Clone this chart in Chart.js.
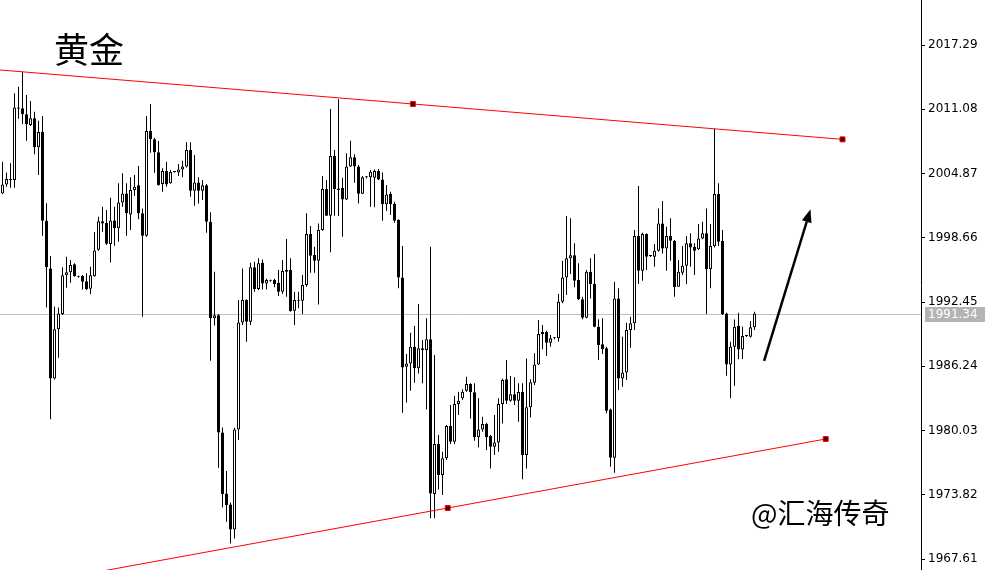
<!DOCTYPE html>
<html>
<head>
<meta charset="utf-8">
<script src="https://cdn.jsdelivr.net/npm/chart.js@4.4.1/dist/chart.umd.min.js"></script>
<style>
html, body { margin: 0; padding: 0; background: #fff; }
#wrap { position: relative; width: 997px; height: 570px; }
</style>
</head>
<body>
<div id="wrap"><canvas id="chartOro"></canvas></div>
<script>
// Velas (apertura, máximo, mínimo, cierre)
const opens = [
  2002.95,2003.82,2004.21,2004.24,2011.26,2011.17,2010.59,2009.56,2010.20,2007.40,
  2008.88,2000.31,1995.70,1985.07,1989.81,1991.29,1995.03,1995.32,1996.09,1994.90,
  1994.96,1994.45,1993.74,1994.93,1997.51,2000.25,2000.08,1998.05,2000.34,1999.57,
  2002.08,2002.95,2000.92,2003.27,2003.73,2001.02,1998.86,2008.98,2008.17,2006.92,
  2003.85,2005.11,2003.92,2005.01,2004.98,2005.27,2005.56,2007.14,2003.21,2004.01,
  2003.21,2003.73,2000.21,1990.87,1991.16,1979.85,1973.95,1972.89,1970.47,1980.14,
  1990.48,1992.64,1990.55,1995.80,1993.70,1996.25,1994.25,1994.51,1994.57,1994.32,
  1993.45,1995.38,1995.54,1991.61,1992.58,1992.58,1994.09,1999.02,1996.99,1996.44,
  1999.41,2003.37,2000.79,2006.56,2003.43,2003.47,2002.37,2005.56,2006.43,2005.56,
  2002.92,2004.50,2004.50,2004.47,2005.11,2004.30,2001.89,2002.92,2001.92,2000.37,
  1994.83,1986.20,1986.52,1988.13,1986.04,1987.97,1987.81,1988.84,1973.89,1978.72,
  1975.73,1977.34,1980.46,1978.95,1982.59,1983.14,1983.88,1984.52,1983.72,1979.37,
  1980.14,1980.66,1979.50,1978.46,1978.88,1982.59,1984.98,1982.91,1983.53,1982.91,
  1983.75,1977.66,1982.27,1984.65,1986.42,1989.36,1989.55,1988.52,1988.94,1988.94,
  1992.48,1994.83,1996.67,1996.96,1994.58,1992.71,1990.94,1995.38,1994.19,1990.07,
  1988.36,1987.97,1982.07,1977.40,1992.80,1985.07,1985.65,1989.74,1990.39,1998.83,
  1995.48,1999.02,1996.89,1996.83,1997.41,2000.05,1997.63,1998.83,1998.34,1993.93,
  1995.28,1995.96,1998.12,1997.80,1997.54,1998.60,1999.09,1995.61,1997.86,2002.89,
  1998.34,1991.35,1986.42,1988.13,1990.16,1987.87,1989.16,1989.10,1990.00
];
const highs = [
  2006.01,2004.98,2005.85,2012.62,2013.26,2014.71,2012.46,2011.88,2010.85,2009.98,
  2010.43,2001.99,1996.89,1992.00,1991.93,1995.80,1996.83,1996.51,1996.19,1995.00,
  1995.06,1995.22,1995.86,1999.21,2000.70,2001.66,2001.34,2002.53,2001.66,2003.92,
  2004.89,2003.92,2004.50,2004.72,2005.59,2001.50,2010.43,2011.59,2008.33,2008.01,
  2005.37,2006.01,2005.21,2005.08,2005.79,2006.11,2007.88,2007.88,2006.66,2004.50,
  2004.24,2003.85,2001.12,1995.38,1991.29,1980.33,1976.11,1973.08,1980.30,1992.64,
  1995.70,1992.71,1996.25,1996.35,1996.67,1996.57,1994.70,1994.60,1994.70,1995.54,
  1996.51,1998.54,1996.67,1993.45,1993.45,1995.06,2001.02,1999.79,1997.80,2000.05,
  2004.63,2004.24,2011.10,2007.14,2012.04,2004.47,2006.82,2008.04,2006.72,2005.69,
  2004.63,2004.60,2005.21,2005.27,2005.30,2004.98,2003.76,2003.11,2002.15,2000.44,
  1997.86,1987.42,1989.48,1990.13,1992.25,1988.77,1990.87,1997.80,1987.32,1979.59,
  1977.98,1980.56,1982.49,1983.39,1983.78,1984.01,1985.23,1984.59,1984.59,1983.14,
  1981.36,1980.78,1979.59,1981.52,1983.14,1985.07,1986.85,1985.30,1985.17,1984.59,
  1984.59,1987.00,1984.98,1987.49,1990.71,1990.23,1989.68,1989.26,1989.02,1993.22,
  1996.45,2000.76,2000.54,1998.12,1996.19,1992.97,1995.54,1996.67,1997.09,1990.78,
  1990.87,1988.13,1982.17,1994.41,1993.77,1989.10,1990.45,1991.03,1999.41,2003.66,
  1999.15,1999.09,1996.98,1998.05,2001.50,2002.21,1999.73,2000.54,1998.44,1996.51,
  1997.86,1998.83,1999.09,1998.12,1999.99,2000.21,2001.50,1999.99,2009.23,2003.92,
  1999.41,1991.42,1988.61,1990.77,1991.42,1990.07,1989.25,1990.61,1991.51
];
const lows = [
  2002.89,2003.60,2003.50,2003.50,2010.17,2009.62,2008.04,2009.46,2006.72,2004.72,
  1998.86,1991.93,1981.11,1984.97,1987.07,1991.19,1993.83,1994.32,1994.90,1994.80,
  1993.67,1993.61,1993.19,1994.90,1997.41,1999.25,1997.96,1996.28,1997.89,1998.28,
  2001.66,1998.86,1999.41,2002.69,2000.44,1991.03,1998.76,2006.88,2004.95,2003.69,
  2003.11,2003.60,2003.89,2004.95,2004.63,2004.50,2005.46,2002.63,2001.76,2001.98,
  2002.31,1999.15,1986.78,1990.19,1976.43,1972.60,1971.21,1969.12,1969.60,1979.11,
  1990.23,1988.61,1990.23,1993.45,1993.61,1993.67,1993.67,1994.42,1993.87,1993.03,
  1993.22,1992.96,1991.51,1990.23,1991.84,1991.29,1993.93,1995.28,1995.28,1992.22,
  1999.34,2000.76,1997.25,2000.79,2000.76,1998.76,2002.31,2005.53,2003.98,2001.98,
  2002.89,2004.40,2001.66,2001.60,2004.25,2000.31,2001.28,2000.86,2000.12,1993.77,
  1981.75,1982.75,1983.88,1984.65,1985.55,1984.59,1982.07,1971.54,1971.54,1974.34,
  1973.79,1977.18,1978.72,1978.72,1981.52,1982.98,1983.78,1981.20,1979.04,1978.40,
  1979.91,1978.14,1976.37,1977.66,1977.98,1980.72,1982.59,1982.82,1982.49,1980.88,
  1975.31,1976.37,1981.30,1984.43,1986.36,1987.88,1987.23,1988.13,1988.86,1988.62,
  1992.32,1993.13,1995.16,1993.87,1992.64,1990.78,1990.87,1992.80,1990.00,1986.84,
  1987.42,1981.69,1976.53,1975.95,1983.94,1984.27,1984.91,1988.03,1989.74,1994.19,
  1994.51,1995.54,1996.80,1995.86,1997.31,1997.15,1995.48,1996.44,1992.96,1993.93,
  1995.06,1994.16,1995.86,1995.06,1997.47,1998.51,1991.29,1993.77,1997.73,1997.86,
  1991.19,1985.33,1983.14,1984.36,1986.91,1986.94,1989.07,1989.03,1989.74
];
const closes = [
  2003.82,2004.34,2004.34,2011.26,2011.14,2010.59,2009.62,2010.20,2007.40,2008.88,
  2000.31,1995.80,1985.07,1989.81,1991.35,1995.03,1995.32,1996.02,1994.93,1994.90,
  1994.41,1993.70,1995.03,1997.44,2000.25,2000.05,1998.09,2000.34,1999.57,2002.08,
  2002.95,2001.02,2003.27,2003.60,2001.02,1998.86,2008.98,2008.17,2006.92,2003.76,
  2005.11,2003.82,2005.01,2005.01,2005.27,2005.56,2007.14,2003.21,2004.01,2003.21,
  2003.73,2000.21,1990.87,1991.16,1979.85,1973.89,1972.83,1970.47,1980.14,1990.48,
  1992.64,1990.55,1995.80,1993.70,1996.19,1994.25,1994.57,1994.51,1994.19,1993.45,
  1995.44,1995.54,1991.58,1992.64,1992.58,1994.09,1999.02,1996.93,1996.44,1999.41,
  2003.37,2000.79,2006.56,2003.37,2003.27,2002.37,2005.56,2006.43,2005.56,2002.92,
  2004.50,2004.50,2005.05,2005.11,2004.30,2001.89,2002.85,2001.89,2000.31,1994.83,
  1986.13,1986.52,1988.13,1986.04,1987.97,1987.81,1988.84,1973.95,1978.72,1975.73,
  1977.34,1980.46,1978.95,1982.59,1982.91,1983.78,1984.52,1983.72,1979.37,1980.14,
  1980.66,1979.37,1978.46,1978.88,1982.59,1984.91,1982.91,1983.53,1982.91,1983.75,
  1977.66,1982.27,1984.69,1986.42,1989.36,1989.55,1988.52,1988.94,1988.94,1992.48,
  1994.83,1996.67,1996.96,1994.51,1992.71,1990.94,1995.38,1994.19,1990.07,1988.29,
  1987.91,1981.95,1977.40,1992.80,1985.07,1985.65,1989.74,1990.39,1998.83,1995.48,
  1999.02,1996.83,1996.89,1997.41,2000.05,1997.63,1998.83,1998.38,1993.87,1995.38,
  1995.96,1998.12,1997.73,1997.41,1998.60,1999.09,1995.61,1997.86,2002.89,1998.28,
  1991.26,1986.42,1988.13,1990.07,1987.87,1989.16,1989.16,1990.00,1991.34
];

// Eje de precios (derecha)
const yTicks = [2017.29, 2011.08, 2004.87, 1998.66, 1992.45, 1986.24, 1980.03, 1973.82, 1967.61];
const currentPrice = 1991.34;

// Líneas de tendencia (índice de vela, precio)
const upperLine = [{ x: -0.7, y: 2014.88 }, { x: 102.6, y: 2011.59 }, { x: 210.0, y: 2008.17 }];
const lowerLine = [{ x: 20.0, y: 1966.10 }, { x: 111.3, y: 1972.54 }, { x: 205.8, y: 1979.21 }];
const markRadius = [0, 3.5, 3.5];

// Flecha
const arrowFrom = { x: 190.4, y: 1986.77 };
const arrowTo = { x: 202.0, y: 2001.41 };

const titulo = '黄金';
const marcaAgua = '@汇海传奇';

const bodyData = opens.map((o, i) => ({ x: i, y: [o, closes[i]] }));
const wickData = lows.map((l, i) => ({ x: i, y: [l, highs[i]] }));
const bodyColors = opens.map((o, i) => closes[i] >= o ? '#ffffff' : '#000000');

const extras = {
    id: 'extras',
    beforeDatasetsDraw(chart) {
        // línea de precio actual
        const { ctx, chartArea, scales } = chart;
        const py = Math.round(scales.y.getPixelForValue(currentPrice)) + 0.5;
        ctx.save();
        ctx.strokeStyle = '#c0c0c0';
        ctx.lineWidth = 1;
        ctx.beginPath();
        ctx.moveTo(chartArea.left, py);
        ctx.lineTo(chartArea.right, py);
        ctx.stroke();
        ctx.restore();
    },
    afterDatasetsDraw(chart) {
        const { ctx, scales } = chart;
        const x1 = scales.x.getPixelForValue(arrowFrom.x), y1 = scales.y.getPixelForValue(arrowFrom.y);
        const x2 = scales.x.getPixelForValue(arrowTo.x), y2 = scales.y.getPixelForValue(arrowTo.y);
        const ang = Math.atan2(y2 - y1, x2 - x1);
        const head = 13, half = 5;
        const bx = x2 - head * Math.cos(ang), by = y2 - head * Math.sin(ang);
        ctx.save();
        ctx.strokeStyle = '#000';
        ctx.fillStyle = '#000';
        ctx.lineWidth = 2.5;
        ctx.beginPath();
        ctx.moveTo(x1, y1);
        ctx.lineTo(bx, by);
        ctx.stroke();
        ctx.beginPath();
        ctx.moveTo(x2, y2);
        ctx.lineTo(bx + half * Math.sin(ang), by - half * Math.cos(ang));
        ctx.lineTo(bx - half * Math.sin(ang), by + half * Math.cos(ang));
        ctx.closePath();
        ctx.fill();
        ctx.restore();
    },
    afterDraw(chart) {
        const { ctx, chartArea, scales } = chart;
        const py = Math.round(scales.y.getPixelForValue(currentPrice));
        ctx.save();
        // etiqueta del precio actual
        ctx.fillStyle = '#b4b4b4';
        ctx.fillRect(chartArea.right + 4, py - 7, 60, 15);
        ctx.fillStyle = '#ffffff';
        ctx.font = '12px "DejaVu Sans"';
        ctx.textBaseline = 'middle';
        ctx.fillText(currentPrice.toFixed(2), chartArea.right + 7, py + 1);
        // título y marca de agua
        ctx.fillStyle = '#000';
        ctx.font = '35px "Noto Sans CJK SC"';
        ctx.fillText(titulo, 54, 50);
        ctx.font = '28px "Noto Sans CJK SC"';
        ctx.fillText(marcaAgua, 751, 513);
        ctx.restore();
    }
};

const ctx = document.getElementById('chartOro').getContext('2d');
new Chart(ctx, {
    type: 'bar',
    data: {
        datasets: [
            {
                type: 'line',
                data: upperLine,
                borderColor: '#ff0000',
                borderWidth: 1,
                pointRadius: markRadius,
                pointStyle: 'rect',
                pointBackgroundColor: '#400000',
                pointBorderColor: '#ff0000',
                pointBorderWidth: 1,
                order: 1
            },
            {
                type: 'line',
                data: lowerLine,
                borderColor: '#ff0000',
                borderWidth: 1,
                pointRadius: markRadius,
                pointStyle: 'rect',
                pointBackgroundColor: '#400000',
                pointBorderColor: '#ff0000',
                pointBorderWidth: 1,
                order: 1
            },
            {
                data: bodyData,
                backgroundColor: bodyColors,
                borderColor: '#000000',
                borderWidth: 1,
                borderSkipped: false,
                grouped: false,
                barPercentage: 1,
                categoryPercentage: 1,
                maxBarThickness: 3,
                minBarLength: 1,
                inflateAmount: 0,
                order: 2
            },
            {
                data: wickData,
                backgroundColor: '#000000',
                borderWidth: 0,
                grouped: false,
                barPercentage: 1,
                categoryPercentage: 1,
                maxBarThickness: 1,
                inflateAmount: 0,
                order: 3
            }
        ]
    },
    options: {
        responsive: true,
        maintainAspectRatio: false,
        animation: false,
        layout: { padding: 0, autoPadding: false },
        scales: {
            x: {
                type: 'linear',
                display: false,
                min: -0.625,
                max: 229.625,
                offset: false
            },
            y: {
                type: 'linear',
                position: 'right',
                min: 1966.55,
                max: 2021.64,
                afterBuildTicks: function (s) {
                    s.ticks = yTicks.map(v => ({ value: v }));
                },
                afterFit: function (s) {
                    s.width = 76;
                    s.paddingTop = 0;
                    s.paddingBottom = 0;
                },
                ticks: {
                    color: '#000',
                    autoSkip: false,
                    padding: 3,
                    font: { family: 'DejaVu Sans', size: 12 },
                    callback: function (v) { return Number(v).toFixed(2); }
                },
                grid: {
                    drawOnChartArea: false,
                    drawTicks: true,
                    tickLength: 4,
                    color: '#000'
                },
                border: { display: true, color: '#000', width: 1 }
            }
        },
        plugins: {
            legend: { display: false },
            tooltip: { enabled: false }
        }
    },
    plugins: [extras]
});
</script>
</body>
</html>
